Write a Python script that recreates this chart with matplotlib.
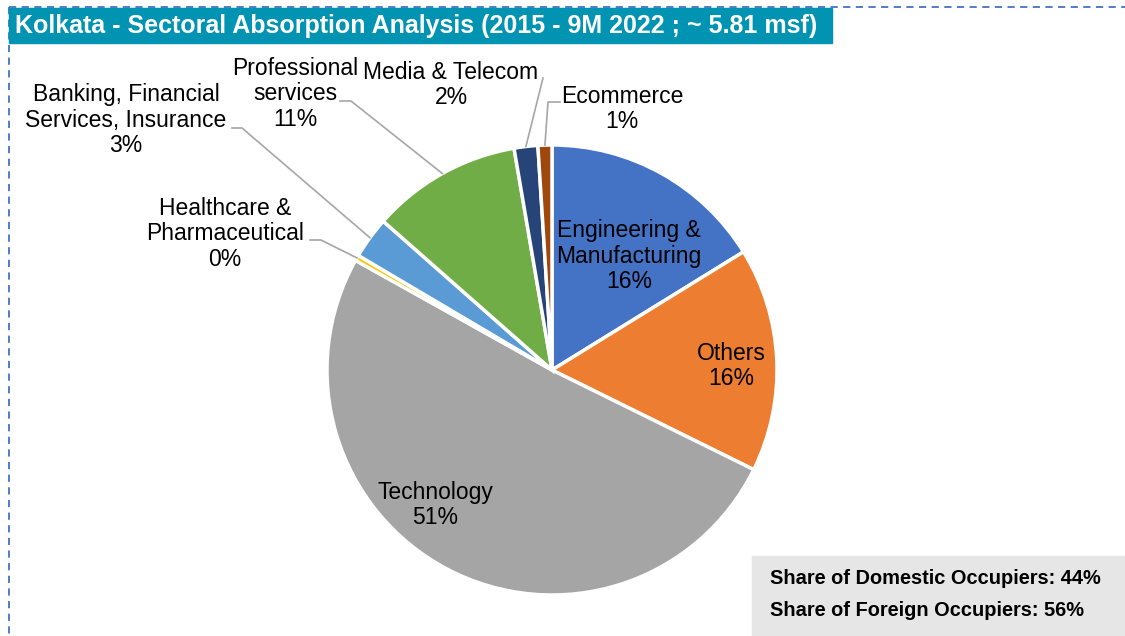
import numpy as np
import matplotlib.pyplot as plt
from matplotlib.patches import Rectangle

# data (share of absorption, %)
sectors = ["Engineering &\nManufacturing", "Others", "Technology",
           "Healthcare &\nPharmaceutical", "Banking, Financial\nServices, Insurance",
           "Professional\nservices", "Media & Telecom", "Ecommerce"]
shares = [16.2, 16.1, 50.8, 0.4, 3.0, 10.8, 1.7, 1.0]
colors = ["#4472C4", "#ED7D31", "#A5A5A5", "#FFC000",
          "#5B9BD5", "#70AD47", "#264478", "#9E480E"]
title = "Kolkata - Sectoral Absorption Analysis (2015 - 9M 2022 ; ~ 5.81 msf)"
box_lines = ["Share of Domestic Occupiers: 44%", "Share of Foreign Occupiers: 56%"]

W, H = 1125, 636
plt.rcParams['font.family'] = ['Liberation Sans', 'DejaVu Sans']

fig = plt.figure(figsize=(W / 100, H / 100), dpi=100)
ax = fig.add_axes([0, 0, 1, 1])

cx, cy, r = 552, H - 370, 225
wedges, _ = ax.pie(shares, colors=colors, startangle=90, counterclock=False,
                   center=(cx, cy), radius=r,
                   wedgeprops=dict(edgecolor='white', linewidth=2.5))
ax.set_xlim(0, W)
ax.set_ylim(0, H)
ax.set_aspect('auto')
ax.axis('off')


def Y(y):
    # image-style y (from top) -> axes y
    return H - y


def anchor(w, frac=1.0):
    mid = np.deg2rad((w.theta1 + w.theta2) / 2)
    return cx + r * frac * np.cos(mid), cy + r * frac * np.sin(mid)


fs = 16.5
labels = [f"{s}\n{round(v):.0f}%" for s, v in zip(sectors, shares)]

# labels inside the pie
inside = {0: (629, 256), 1: (731, 366), 2: (435, 505)}
for i, (x, y) in inside.items():
    ax.text(x, Y(y), labels[i], ha='center', va='center', fontsize=fs,
            multialignment='center', color='black', linespacing=1.13)

# labels outside with leader lines
outside = {3: (225, 234), 4: (126, 120), 5: (295, 94), 6: (451, 85), 7: (622, 109)}
for i, (x, y) in outside.items():
    ax.text(x, Y(y), labels[i], ha='center', va='center', fontsize=fs,
            multialignment='center', color='black', linespacing=1.13)

lc = dict(color='#A6A6A6', lw=1.2)
ax_, ay_ = anchor(wedges[3])
ax.plot([310, 321, ax_], [Y(240), Y(240), ay_], **lc)
ax_, ay_ = anchor(wedges[4])
ax.plot([232, 242, ax_], [Y(128), Y(128), ay_], **lc)
ax_, ay_ = anchor(wedges[5])
ax.plot([340, 351, ax_], [Y(101), Y(101), ay_], **lc)
ax_, ay_ = anchor(wedges[6])
ax.plot([543, ax_], [Y(78), ay_], **lc)
ax_, ay_ = anchor(wedges[7])
ax.plot([560, 548, ax_], [Y(102), Y(102), ay_], **lc)

# dashed frame
ax.plot([9, W], [Y(7), Y(7)], color='#4472C4', lw=1.3, ls=(0, (4, 3)))
ax.plot([9, 9], [Y(7), 0], color='#4472C4', lw=1.3, ls=(0, (4, 3)))

# title bar
ax.add_patch(Rectangle((9, Y(43)), 823, 35, color='#0093B2', zorder=3))
ax.text(15, Y(26), title, color='white', fontsize=18, fontweight='bold',
        va='center', ha='left', zorder=4)

# occupier share box
ax.add_patch(Rectangle((752, 0), W - 752, H - 556, color='#E7E6E6', zorder=3))
ax.text(770, Y(578), box_lines[0], fontsize=14.4, fontweight='bold', va='center', zorder=4)
ax.text(770, Y(611), box_lines[1], fontsize=14.4, fontweight='bold', va='center', zorder=4)

fig.savefig('out.png', dpi=100)
